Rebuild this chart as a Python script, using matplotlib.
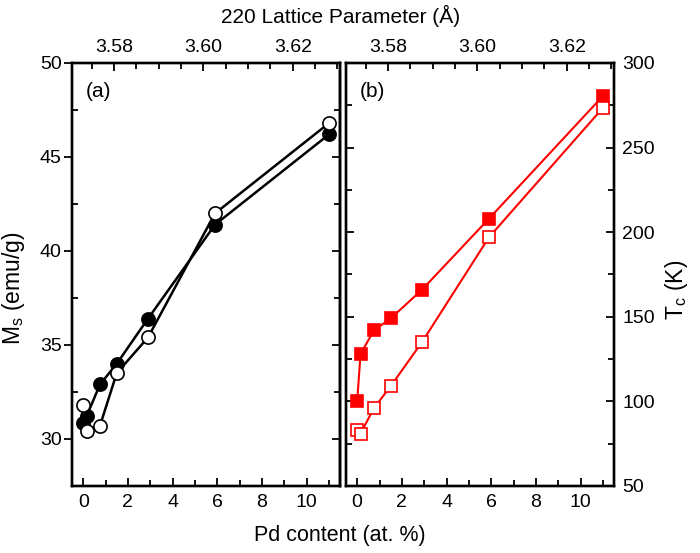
import matplotlib.pyplot as plt
from matplotlib.ticker import MultipleLocator

plt.rcParams['font.family'] = ['Liberation Sans', 'DejaVu Sans']

# Pd content (at. %)
pd_content = [0, 0.15, 0.75, 1.5, 2.9, 5.9, 11.0]

# saturation magnetisation (emu/g)
ms_filled = [30.85, 31.2, 32.9, 34.0, 36.4, 41.4, 46.2]
ms_open = [31.8, 30.4, 30.7, 33.5, 35.4, 42.0, 46.8]

# Curie temperature (K)
tc_filled = [100, 128, 142, 149, 166, 208, 280.5]
tc_open = [83, 81, 96, 109, 135, 197, 273.5]

lattice_ticks = [3.58, 3.60, 3.62]
lattice_lim = (3.5706, 3.6306)

TICK = 14
LABEL = 16.5

fig = plt.figure(figsize=(7, 5.53), dpi=100)
axL = fig.add_axes([0.1029, 0.1212, 0.383, 0.7649])
axR = fig.add_axes([0.4943, 0.1212, 0.383, 0.7649])

# left panel: Ms
axL.plot(pd_content, ms_filled, '-o', color='black', lw=1.8, ms=9.5,
         mfc='black', mec='black', mew=1.2)
axL.plot(pd_content, ms_open, '-o', color='black', lw=1.8, ms=9.5,
         mfc='white', mec='black', mew=1.2)
axL.set_ylim(27.5, 50)
axL.yaxis.set_major_locator(MultipleLocator(5))
axL.yaxis.set_minor_locator(MultipleLocator(2.5))
axL.text(0.05, 0.955, '(a)', transform=axL.transAxes, fontsize=15, va='top')
axL.tick_params(axis='y', which='major', direction='out', length=6, width=1.3,
                left=True, right=False, labelsize=TICK, pad=1.5)
axL.tick_params(axis='y', which='minor', direction='in', length=4, width=1.3,
                left=True, right=False)
secL = axL.secondary_yaxis('right')
secL.yaxis.set_major_locator(MultipleLocator(5))
secL.yaxis.set_minor_locator(MultipleLocator(2.5))
secL.tick_params(which='major', direction='in', length=6, width=1.3, labelright=False)
secL.tick_params(which='minor', direction='in', length=4, width=1.3)
secL.spines['right'].set_linewidth(1.7)

# right panel: Tc
axR.plot(pd_content, tc_filled, '-s', color='red', lw=1.5, ms=8.5,
         mfc='red', mec='red', mew=1.2)
axR.plot(pd_content, tc_open, '-s', color='red', lw=1.5, ms=8.5,
         mfc='white', mec='red', mew=1.2)
axR.set_ylim(50, 300)
axR.yaxis.set_major_locator(MultipleLocator(50))
axR.yaxis.set_minor_locator(MultipleLocator(25))
axR.yaxis.tick_right()
axR.text(0.05, 0.955, '(b)', transform=axR.transAxes, fontsize=15, va='top')
axR.tick_params(axis='y', which='both', direction='in', left=True, right=True,
                labelleft=False, labelright=True, labelsize=TICK, width=1.3, pad=6)
axR.tick_params(axis='y', which='major', length=6)
axR.tick_params(axis='y', which='minor', length=4)

for ax in (axL, axR):
    ax.set_xlim(-0.5, 11.5)
    ax.xaxis.set_major_locator(MultipleLocator(2))
    ax.xaxis.set_minor_locator(MultipleLocator(1))
    for s in ax.spines.values():
        s.set_linewidth(1.7)
    top = ax.twiny()
    top.set_xlim(*lattice_lim)
    top.set_xticks(lattice_ticks)
    top.set_xticklabels(['%.2f' % v for v in lattice_ticks])
    top.xaxis.set_minor_locator(MultipleLocator(0.005))
    top.tick_params(axis='x', which='both', direction='in', width=1.3,
                    labelsize=TICK, pad=5)
    top.tick_params(axis='x', which='major', length=6)
    top.tick_params(axis='x', which='minor', length=4)
    for s in top.spines.values():
        s.set_linewidth(1.7)
    ax.tick_params(axis='x', which='both', direction='in', width=1.3,
                   bottom=True, top=False, labelsize=TICK, pad=6)
    ax.tick_params(axis='x', which='major', length=6)
    ax.tick_params(axis='x', which='minor', length=4)

fig.text(0.019, 0.479, r'M$_\mathregular{s}$ (emu/g)', rotation=90,
         ha='center', va='center', fontsize=LABEL)
fig.text(0.966, 0.476, r'T$_\mathregular{c}$ (K)', rotation=90,
         ha='center', va='center', fontsize=LABEL)
fig.text(0.486, 0.031, 'Pd content (at. %)', ha='center', va='center', fontsize=15.5)
fig.text(0.486, 0.972, '220 Lattice Parameter (Å)', ha='center', va='center',
         fontsize=15)

plt.savefig('out.png', dpi=100)
